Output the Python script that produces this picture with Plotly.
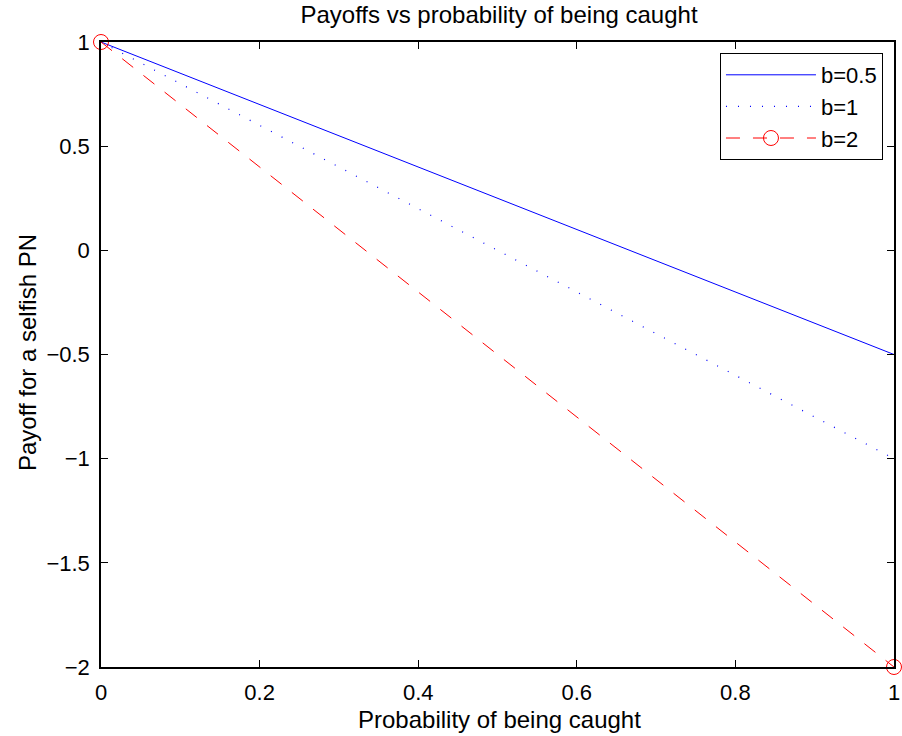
import plotly.graph_objects as go

p = [0, 1]
pay_b05 = [1, -0.5]
pay_b1 = [1, -1]
pay_b2 = [1, -2]
x_ticks = [0, 0.2, 0.4, 0.6, 0.8, 1]
y_ticks = [-2, -1.5, -1, -0.5, 0, 0.5, 1]

FONT = "Liberation Sans, Arial, sans-serif"

W, H = 902, 736
ML, MT, MR, MB = 101, 42, 8, 69

fig = go.Figure()
fig.add_trace(go.Scatter(x=p, y=pay_b05, mode="lines", name="b=0.5",
                         line=dict(color="#0000ff", width=1), cliponaxis=False))
fig.add_trace(go.Scatter(x=p, y=pay_b1, mode="lines", name="b=1",
                         line=dict(color="#0000ff", width=1.2, dash="1px,11px"), cliponaxis=False))
fig.add_trace(go.Scatter(x=p, y=pay_b2, mode="lines+markers", name="b=2",
                         line=dict(color="#ff0000", width=1, dash="14px,13px"),
                         marker=dict(symbol="circle-open", size=15, color="#ff0000",
                                     line=dict(width=1, color="#ff0000")),
                         cliponaxis=False))

axis_common = dict(showline=True, mirror="ticks", linecolor="black", linewidth=1.5,
                   ticks="inside", ticklen=7, tickcolor="black", tickwidth=1,
                   showgrid=False, zeroline=False, automargin=False,
                   ticklabeloverflow="allow",
                   tickfont=dict(family=FONT, size=22, color="black"))

fig.update_layout(
    width=W, height=H,
    margin=dict(l=ML, r=MR, t=MT, b=MB),
    paper_bgcolor="white", plot_bgcolor="white",
    title=dict(text="Payoffs vs probability of being caught", x=499 / W,
               xanchor="center", y=1 - 15 / H, yanchor="middle",
               font=dict(family=FONT, size=24, color="black")),
    xaxis=dict(range=[0, 1], tickvals=x_ticks, ticklabelstandoff=5, **axis_common),
    yaxis=dict(range=[-2, 1], tickvals=y_ticks, ticklabelstandoff=5, **axis_common),
    legend=dict(x=0.9861, y=0.9824, xanchor="right", yanchor="top",
                bordercolor="black", borderwidth=1, bgcolor="white",
                font=dict(family=FONT, size=22, color="black"),
                tracegroupgap=0, itemwidth=90),
    showlegend=True,
    hovermode=False,
    annotations=[
        dict(text="Probability of being caught", xref="paper", yref="paper",
             x=(499 - ML) / (W - ML - MR), y=-(719 - (H - MB)) / (H - MT - MB),
             xanchor="center", yanchor="middle",
             showarrow=False, font=dict(family=FONT, size=24, color="black")),
        dict(text="Payoff for a selfish PN", xref="paper", yref="paper",
             x=-(ML - 27) / (W - ML - MR), y=((H - MB) - 353) / (H - MT - MB),
             xanchor="center", yanchor="middle",
             textangle=-90, showarrow=False,
             font=dict(family=FONT, size=24, color="black")),
    ],
)

# remove the default page margin so the figure fills the window from its corner
fig.write_html("out.html", config={"displayModeBar": False},
               post_script="document.body.style.margin='0px';")
